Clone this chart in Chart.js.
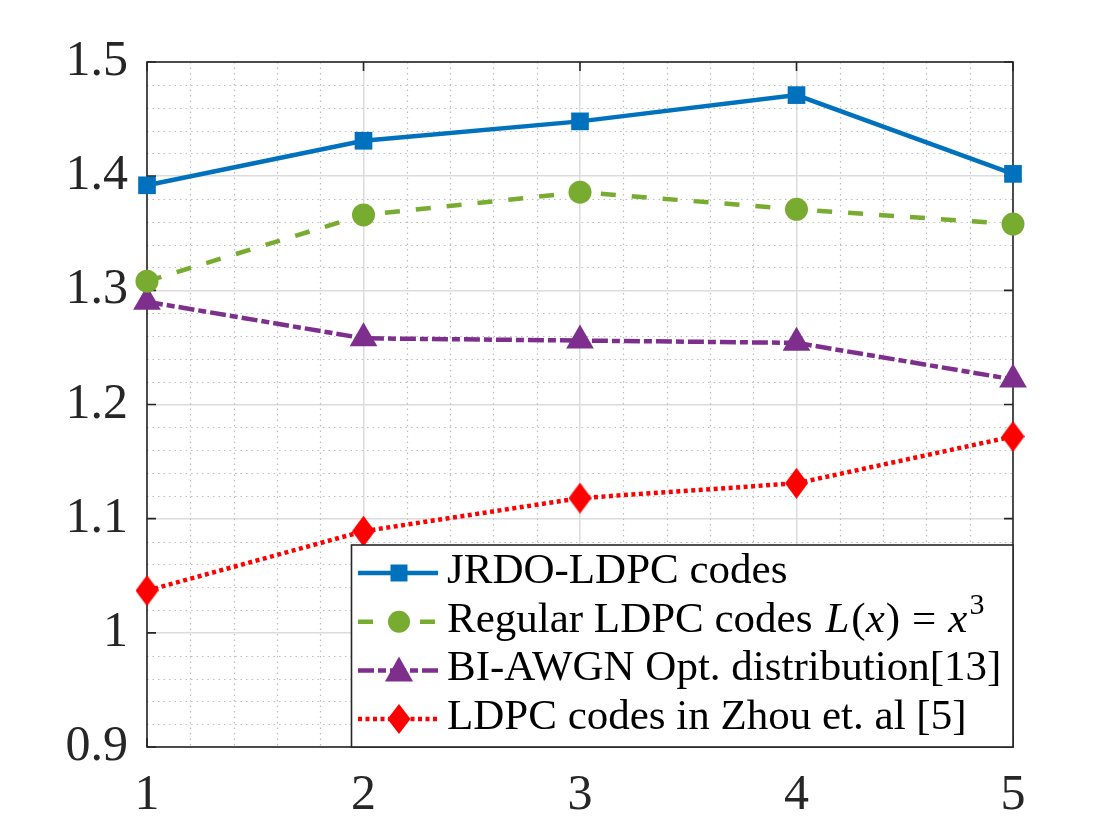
<!DOCTYPE html>
<html>
<head>
<meta charset="utf-8">
<script src="https://cdn.jsdelivr.net/npm/chart.js@4.4.0/dist/chart.umd.min.js"></script>
<style>
  html, body { margin: 0; background: #fff; }
  #wrap { width: 1120px; height: 840px; }
</style>
</head>
<body>
<div id="wrap"><canvas id="chart" width="1120" height="840"></canvas></div>
<script>
// values
const xValues = [1, 2, 3, 4, 5];
const jrdoValues = [1.392, 1.431, 1.448, 1.471, 1.402];
const regularValues = [1.308, 1.366, 1.386, 1.371, 1.358];
const biawgnValues = [1.290, 1.258, 1.256, 1.254, 1.222];
const zhouValues = [1.037, 1.089, 1.118, 1.131, 1.172];

const xTicks = [1, 2, 3, 4, 5];
const yTicks = [0.9, 1.0, 1.1, 1.2, 1.3, 1.4, 1.5];

const seriesLabels = [
  'JRDO-LDPC codes',
  'Regular LDPC codes',
  'BI-AWGN Opt. distribution[13]',
  'LDPC codes in Zhou et. al [5]'
];

const BLUE = '#0072BD';
const GREEN = '#77AC30';
const PURPLE = '#7E2F8E';
const RED = '#FF0000';
const AXIS = '#262626';
const SERIF = '"Liberation Serif", "Times New Roman", serif';

function toPoints(values) {
  return xValues.map((x, i) => ({ x: x, y: values[i] }));
}

// MATLAB style diamond is taller than wide
function makeDiamond(w, h, color) {
  const c = document.createElement('canvas');
  c.width = w; c.height = h;
  const g = c.getContext('2d');
  g.fillStyle = color;
  g.beginPath();
  g.moveTo(w / 2, 0);
  g.lineTo(w, h / 2);
  g.lineTo(w / 2, h);
  g.lineTo(0, h / 2);
  g.closePath();
  g.fill();
  return c;
}

const diamond = makeDiamond(23, 31, RED);

// dotted minor grid + axes box with inward ticks, under the data
const minorGrid = {
  id: 'minorGrid',
  beforeDatasetsDraw(chart) {
    const { ctx, chartArea: a, scales } = chart;
    ctx.save();
    ctx.strokeStyle = '#bdbdbd';
    ctx.lineWidth = 1.2;
    ctx.setLineDash([1.5, 4]);
    for (let i = 1; i < 30; i++) {
      if (i % 5 === 0) continue;
      const y = Math.round(scales.y.getPixelForValue(0.9 + i * 0.02)) + 0.5;
      ctx.beginPath(); ctx.moveTo(a.left, y); ctx.lineTo(a.right, y); ctx.stroke();
    }
    for (let i = 1; i < 20; i++) {
      if (i % 5 === 0) continue;
      const x = Math.round(scales.x.getPixelForValue(1 + i * 0.2)) + 0.5;
      ctx.beginPath(); ctx.moveTo(x, a.top); ctx.lineTo(x, a.bottom); ctx.stroke();
    }
    ctx.setLineDash([]);

    ctx.strokeStyle = AXIS;
    ctx.lineWidth = 1.6;
    ctx.strokeRect(a.left, a.top, a.right - a.left, a.bottom - a.top);
    const tl = 9;
    yTicks.forEach(v => {
      const y = scales.y.getPixelForValue(v);
      ctx.beginPath();
      ctx.moveTo(a.left, y); ctx.lineTo(a.left + tl, y);
      ctx.moveTo(a.right, y); ctx.lineTo(a.right - tl, y);
      ctx.stroke();
    });
    xTicks.forEach(v => {
      const x = scales.x.getPixelForValue(v);
      ctx.beginPath();
      ctx.moveTo(x, a.bottom); ctx.lineTo(x, a.bottom - tl);
      ctx.moveTo(x, a.top); ctx.lineTo(x, a.top + tl);
      ctx.stroke();
    });
    ctx.restore();
  }
};

function drawMarker(ctx, kind, x, y, color) {
  ctx.fillStyle = color;
  ctx.beginPath();
  if (kind === 'rect') {
    ctx.rect(x - 8.5, y - 8.5, 17, 17);
  } else if (kind === 'circle') {
    ctx.arc(x, y, 11, 0, Math.PI * 2);
  } else if (kind === 'triangle') {
    ctx.moveTo(x, y - 14); ctx.lineTo(x + 14, y + 11); ctx.lineTo(x - 14, y + 11); ctx.closePath();
  } else {
    ctx.moveTo(x, y - 15); ctx.lineTo(x + 11.5, y); ctx.lineTo(x, y + 15); ctx.lineTo(x - 11.5, y); ctx.closePath();
  }
  ctx.fill();
}

// legend box in the lower right corner of the axes
const boxLegend = {
  id: 'boxLegend',
  afterDraw(chart) {
    const { ctx, chartArea: a } = chart;
    const left = 351.5, top = 545;
    ctx.save();
    ctx.fillStyle = '#fff';
    ctx.fillRect(left, top, a.right - left, a.bottom - top);
    ctx.strokeStyle = AXIS;
    ctx.lineWidth = 1.6;
    ctx.strokeRect(left, top, a.right - left, a.bottom - top);

    const kinds = ['rect', 'circle', 'triangle', 'diamond'];
    const fs = 43;
    chart.data.datasets.forEach((ds, i) => {
      const y = 573 + i * 48.7;
      ctx.strokeStyle = ds.borderColor;
      ctx.lineWidth = ds.borderWidth;
      ctx.setLineDash(ds.borderDash || []);
      ctx.beginPath(); ctx.moveTo(358, y); ctx.lineTo(438, y); ctx.stroke();
      ctx.setLineDash([]);
      drawMarker(ctx, kinds[i], 399, y, ds.borderColor);

      ctx.fillStyle = '#000';
      ctx.textBaseline = 'alphabetic';
      ctx.font = fs + 'px ' + SERIF;
      let tx = 447;
      const by = y + 10;
      ctx.fillText(ds.label, tx, by);
      if (i === 1) {
        tx += ctx.measureText(ds.label).width + 13;
        const parts = [
          ['italic ', 'L', 2], ['', '(', 0], ['italic ', 'x', 1], ['', ')', 12],
          ['', '=', 12], ['italic ', 'x', 1]
        ];
        parts.forEach(p => {
          ctx.font = p[0] + fs + 'px ' + SERIF;
          ctx.fillText(p[1], tx, by);
          tx += ctx.measureText(p[1]).width + p[2];
        });
        ctx.font = '30px ' + SERIF;
        ctx.fillText('3', tx + 1, by - 18);
      }
    });
    ctx.restore();
  }
};

new Chart(document.getElementById('chart'), {
  type: 'line',
  data: {
    datasets: [
      {
        label: seriesLabels[0],
        data: toPoints(jrdoValues),
        borderColor: BLUE,
        backgroundColor: BLUE,
        borderWidth: 4.5,
        pointStyle: 'rect',
        pointRadius: 12.5,
        pointBorderWidth: 0,
        clip: false
      },
      {
        label: seriesLabels[1],
        data: toPoints(regularValues),
        borderColor: GREEN,
        backgroundColor: GREEN,
        borderWidth: 4.5,
        borderDash: [15, 16],
        pointStyle: 'circle',
        pointRadius: 11.5,
        pointBorderWidth: 0,
        clip: false
      },
      {
        label: seriesLabels[2],
        data: toPoints(biawgnValues),
        borderColor: PURPLE,
        backgroundColor: PURPLE,
        borderWidth: 4.5,
        borderDash: [16, 4, 8, 4],
        pointStyle: 'triangle',
        pointRadius: 16,
        pointBorderWidth: 0,
        clip: false
      },
      {
        label: seriesLabels[3],
        data: toPoints(zhouValues),
        borderColor: RED,
        backgroundColor: RED,
        borderWidth: 4.5,
        borderDash: [4, 3.5],
        pointStyle: diamond,
        pointRadius: 12,
        pointBorderWidth: 0,
        clip: false
      }
    ]
  },
  options: {
    responsive: false,
    animation: false,
    devicePixelRatio: 1,
    layout: { padding: { top: 62, right: 107, left: 0, bottom: 0 } },
    plugins: {
      legend: { display: false },
      title: { display: false },
      tooltip: { enabled: false }
    },
    elements: { line: { tension: 0 } },
    scales: {
      x: {
        type: 'linear',
        min: 1,
        max: 5,
        afterFit(scale) { scale.height = 93; },
        afterBuildTicks(scale) { scale.ticks = xTicks.map(v => ({ value: v })); },
        ticks: {
          font: { family: SERIF, size: 50 },
          color: AXIS,
          padding: 19,
          maxRotation: 0,
          callback: v => String(v)
        },
        grid: { color: '#dcdcdc', lineWidth: 1.5, drawTicks: false },
        border: { display: false }
      },
      y: {
        type: 'linear',
        min: 0.9,
        max: 1.5,
        afterFit(scale) { scale.width = 147; },
        afterBuildTicks(scale) { scale.ticks = yTicks.map(v => ({ value: v })); },
        ticks: {
          font: { family: SERIF, size: 50 },
          color: AXIS,
          padding: 19,
          callback: v => String(Number(v.toFixed(1)))
        },
        grid: { color: '#dcdcdc', lineWidth: 1.5, drawTicks: false },
        border: { display: false }
      }
    }
  },
  plugins: [minorGrid, boxLegend]
});
</script>
</body>
</html>
